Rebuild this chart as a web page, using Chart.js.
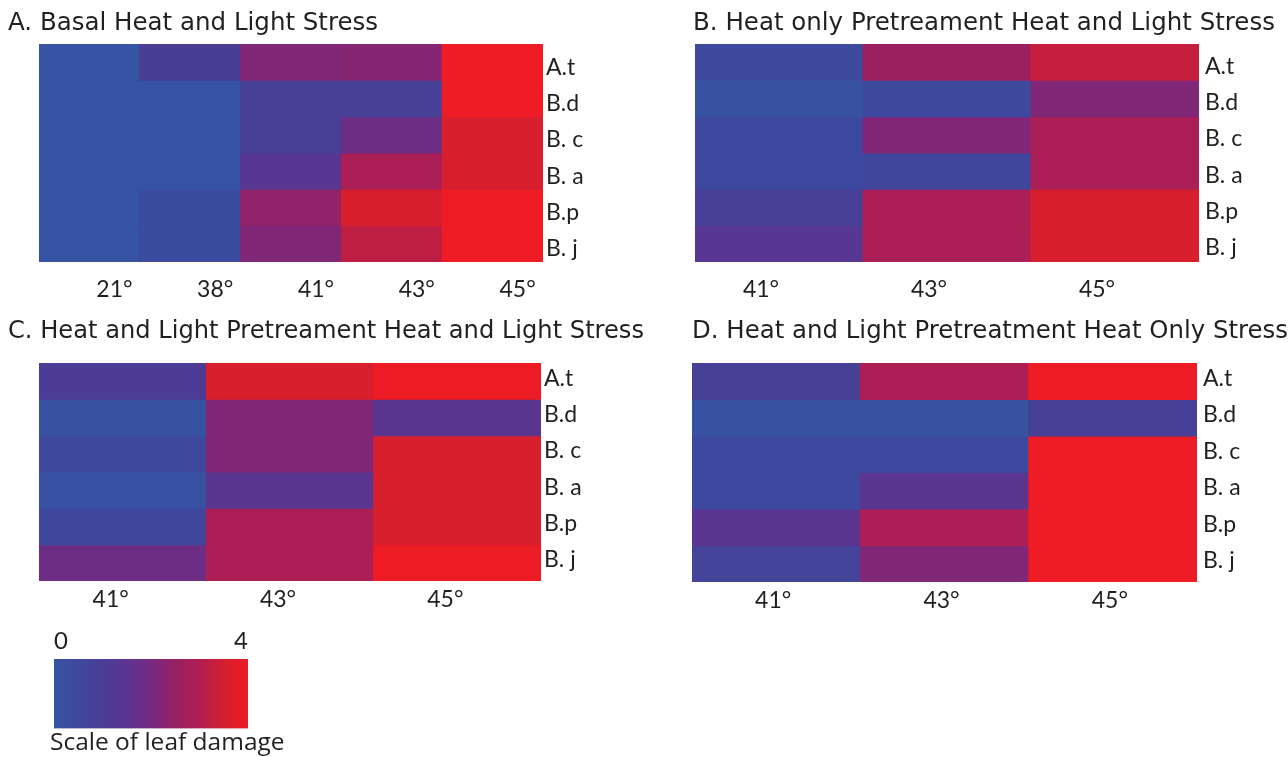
<!DOCTYPE html>
<html>
<head>
<meta charset="utf-8">
<script src="https://cdn.jsdelivr.net/npm/chart.js@4.4.1/dist/chart.umd.min.js"></script>
<style>
  html, body { margin: 0; padding: 0; background: #fff; }
  #wrap { position: relative; width: 1288px; height: 757px; overflow: hidden; background: #fff; }
  canvas { position: absolute; }
</style>
</head>
<body>
<div id="wrap">
  <canvas id="panelA" width="644" height="320" style="left:0;top:0"></canvas>
  <canvas id="panelB" width="644" height="320" style="left:644px;top:0"></canvas>
  <canvas id="panelC" width="644" height="310" style="left:0;top:310px"></canvas>
  <canvas id="panelD" width="644" height="310" style="left:644px;top:310px"></canvas>
  <canvas id="scaleBar" width="320" height="137" style="left:0;top:620px"></canvas>
</div>
<script>
// species (rows, top to bottom) and temperatures (columns)
const rowLabels = ['A.t', 'B.d', 'B. c', 'B. a', 'B.p', 'B. j'];
const tempsA = ['21°', '38°', '41°', '43°', '45°'];
const tempsPre = ['41°', '43°', '45°'];

// leaf damage score 0-4, one row per species
const damageA = [
  [0, 1.0, 2.15, 2.25, 4],
  [0, 0, 0.85, 0.85, 4],
  [0, 0, 0.85, 1.85, 3.55],
  [0, 0, 1.4, 2.9, 3.55],
  [0, 0.3, 2.4, 3.55, 4],
  [0, 0.3, 2.15, 3.2, 4]
];
const damageB = [
  [0.4, 2.6, 3.3],
  [0.05, 0.4, 2.15],
  [0.45, 2.15, 2.9],
  [0.45, 0.6, 2.9],
  [0.85, 2.9, 3.55],
  [1.4, 2.9, 3.55]
];
const damageC = [
  [1.05, 3.55, 4],
  [0.05, 2.15, 1.45],
  [0.5, 2.15, 3.55],
  [0.1, 1.45, 3.55],
  [0.55, 2.9, 3.55],
  [1.85, 2.9, 4]
];
const damageD = [
  [0.85, 2.9, 4],
  [0.05, 0.05, 0.85],
  [0.45, 0.45, 4],
  [0.45, 1.45, 4],
  [1.45, 2.9, 4],
  [0.7, 2.15, 4]
];
const scaleMin = 0;
const scaleMax = 4;
const scaleTicks = [0, 4];

// blue -> purple -> red colour ramp
const rampStops = [
  [0, 55, 83, 163], [0.5, 62, 72, 157], [1, 74, 61, 149], [1.5, 92, 53, 145],
  [2, 118, 42, 128], [2.5, 150, 33, 100], [3, 176, 30, 82], [3.5, 212, 31, 47], [4, 238, 28, 37]
];

function damageColor(v) {
  for (let i = 1; i < rampStops.length; i++) {
    const a = rampStops[i - 1], b = rampStops[i];
    if (v <= b[0]) {
      const t = (v - a[0]) / (b[0] - a[0]);
      const c = [1, 2, 3].map(k => Math.round(a[k] + (b[k] - a[k]) * t));
      return 'rgb(' + c.join(',') + ')';
    }
  }
  const l = rampStops[rampStops.length - 1];
  return 'rgb(' + l[1] + ',' + l[2] + ',' + l[3] + ')';
}

const inkColor = '#231f20';
const labelFont = { family: 'Lato', size: 23 };
const titleFont = { family: 'DejaVu Sans', size: 24.5, weight: 'normal' };

function makePanel(id, o) {
  const ctx = document.getElementById(id).getContext('2d');
  return new Chart(ctx, {
    type: 'bar',
    data: {
      labels: o.temps,
      datasets: rowLabels.map((name, r) => ({
        label: name,
        data: o.temps.map(() => 1),
        backgroundColor: o.damage[r].map(damageColor),
        borderWidth: 0,
        inflateAmount: 0.5,
        barPercentage: 1,
        categoryPercentage: 1
      }))
    },
    options: {
      responsive: false,
      devicePixelRatio: 1,
      animation: false,
      events: [],
      layout: { padding: { left: o.padLeft, right: 0, top: 0, bottom: 0 } },
      plugins: {
        legend: { display: false },
        tooltip: { enabled: false },
        title: {
          display: true,
          text: o.title,
          align: 'start',
          color: inkColor,
          font: titleFont,
          padding: o.titlePad
        }
      },
      scales: {
        x: {
          stacked: true,
          grid: { display: false, drawTicks: false },
          border: { display: false },
          ticks: {
            color: inkColor,
            font: labelFont,
            padding: o.xPad,
            labelOffset: o.labelOffset,
            maxRotation: 0,
            autoSkip: false
          },
          afterFit(s) { s.height = o.xHeight; }
        },
        y: {
          type: 'linear',
          stacked: true,
          reverse: true,
          min: 0,
          max: rowLabels.length,
          grid: { display: false, drawTicks: false },
          border: { display: false },
          ticks: { display: false },
          afterFit(s) { s.width = o.yWidth; }
        },
        rows: {
          type: 'category',
          axis: 'y',
          position: 'right',
          labels: rowLabels,
          offset: true,
          grid: { display: false, drawTicks: false },
          border: { display: false },
          ticks: { color: inkColor, font: labelFont, padding: o.rowPad, labelOffset: o.rowShift },
          afterFit(s) { s.width = o.rowWidth; }
        }
      }
    }
  });
}

makePanel('panelA', {
  title: 'A. Basal Heat and Light Stress', temps: tempsA, damage: damageA,
  padLeft: 8, yWidth: 31, rowWidth: 101, rowPad: 3, rowShift: 5,
  titlePad: { top: 9, bottom: 5.6 }, xHeight: 58, xPad: 14, labelOffset: 25
});
makePanel('panelB', {
  title: 'B. Heat only Pretreament Heat and Light Stress', temps: tempsPre, damage: damageB,
  padLeft: 49, yWidth: 2, rowWidth: 89, rowPad: 6, rowShift: 4,
  titlePad: { top: 9, bottom: 5.6 }, xHeight: 58, xPad: 14, labelOffset: -18
});
makePanel('panelC', {
  title: 'C. Heat and Light Pretreament Heat and Light Stress', temps: tempsPre, damage: damageC,
  padLeft: 8, yWidth: 31, rowWidth: 103, rowPad: 3, rowShift: -3,
  titlePad: { top: 7.3, bottom: 16.3 }, xHeight: 39, xPad: 5, labelOffset: -12
});
makePanel('panelD', {
  title: 'D. Heat and Light Pretreatment Heat Only Stress', temps: tempsPre, damage: damageD,
  padLeft: 48, yWidth: 0, rowWidth: 91, rowPad: 6, rowShift: -3,
  titlePad: { top: 7.3, bottom: 16.3 }, xHeight: 38, xPad: 5, labelOffset: -3
});

// colour scale bar
new Chart(document.getElementById('scaleBar').getContext('2d'), {
  type: 'bar',
  data: {
    labels: ['scale'],
    datasets: [{
      data: [[scaleMin, scaleMax]],
      borderWidth: 0,
      barPercentage: 1,
      categoryPercentage: 1,
      backgroundColor(c) {
        const area = c.chart.chartArea;
        if (!area) return damageColor(scaleMin);
        const xs = c.chart.scales.x;
        const g = c.chart.ctx.createLinearGradient(xs.getPixelForValue(scaleMin), 0, xs.getPixelForValue(scaleMax), 0);
        rampStops.forEach(s => g.addColorStop((s[0] - scaleMin) / (scaleMax - scaleMin), damageColor(s[0])));
        return g;
      }
    }]
  },
  options: {
    indexAxis: 'y',
    responsive: false,
    devicePixelRatio: 1,
    animation: false,
    events: [],
    layout: { padding: { left: 50, right: 0, top: 0, bottom: 0 } },
    plugins: {
      legend: { display: false },
      tooltip: { enabled: false },
      title: {
        display: true,
        position: 'bottom',
        align: 'start',
        text: 'Scale of leaf damage',
        color: inkColor,
        font: { family: 'Open Sans', size: 24.5, weight: 'normal', lineHeight: 1 },
        padding: { top: 2, bottom: 2 }
      }
    },
    scales: {
      x: {
        type: 'linear',
        position: 'top',
        min: scaleMin,
        max: scaleMax,
        grid: { display: false, drawTicks: false },
        border: { display: false },
        afterBuildTicks(s) { s.ticks = scaleTicks.map(v => ({ value: v })); },
        ticks: { color: inkColor, font: { family: 'Lato', size: 24 }, padding: 3, align: 'inner' },
        afterFit(s) { s.height = 39; }
      },
      y: {
        grid: { display: false, drawTicks: false },
        border: { display: false },
        ticks: { display: false },
        afterFit(s) { s.width = 4; }
      },
      gap: {
        type: 'linear',
        axis: 'y',
        position: 'right',
        grid: { display: false, drawTicks: false },
        border: { display: false },
        ticks: { display: false },
        afterFit(s) { s.width = 72; }
      }
    }
  }
});
</script>
</body>
</html>
